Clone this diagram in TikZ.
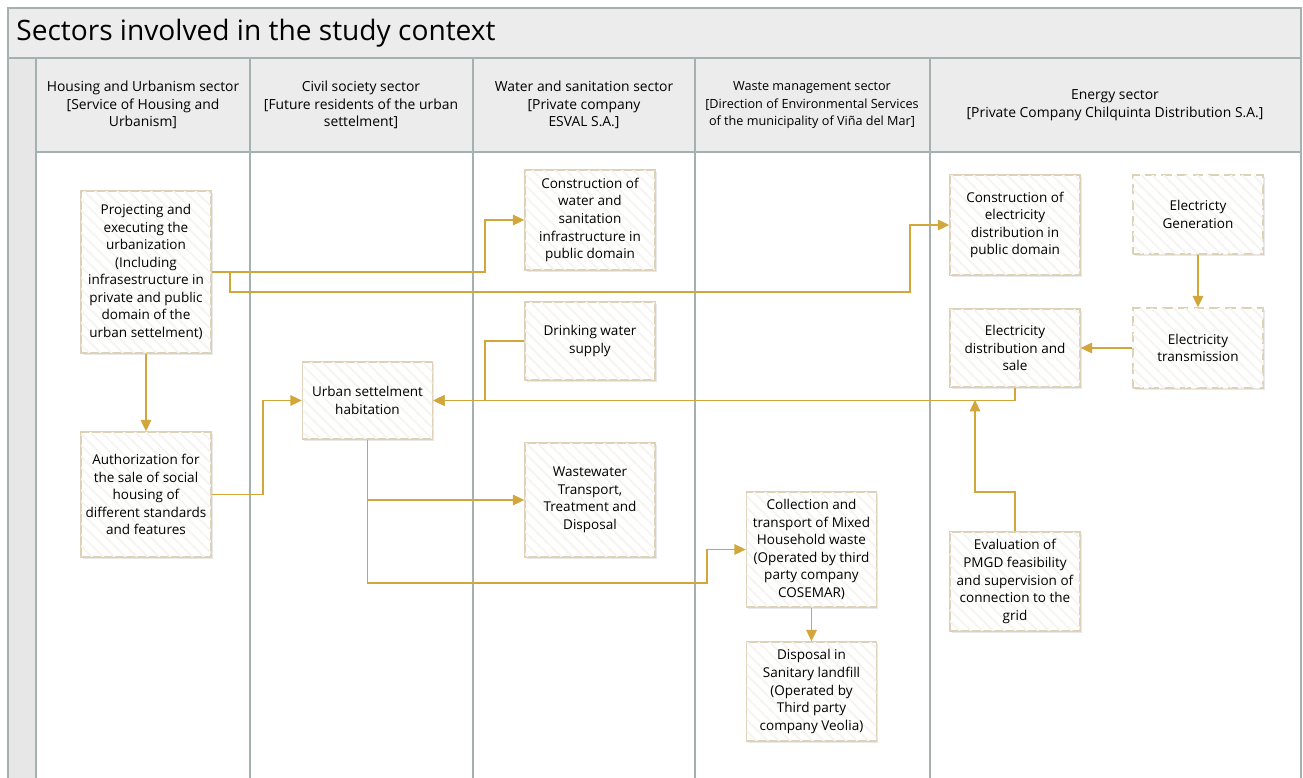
\documentclass[tikz,border=0pt]{standalone}
\usepackage{fontspec}
\setmainfont{Open Sans}
\usetikzlibrary{arrows.meta, shadows, patterns.meta}

\definecolor{flowgold}{RGB}{210,166,58}
\definecolor{boxline}{RGB}{221,210,184}
\definecolor{lanegray}{RGB}{163,177,176}
\definecolor{headgray}{RGB}{236,236,236}
\definecolor{stripgray}{RGB}{231,231,231}
\definecolor{hatchgray}{RGB}{246,244,240}

\begin{document}
\begin{tikzpicture}[x=0.02cm, y=-0.02cm,
    stage/.style={draw=boxline, fill=white, line width=0.8pt, align=center, inner sep=2pt,
        minimum width=2.6cm, font=\fontsize{7.7}{10}\selectfont,
        drop shadow={opacity=0.18, shadow xshift=1pt, shadow yshift=-1.2pt},
        postaction={pattern={Lines[angle=-45,distance=4.5pt,line width=1pt]}, pattern color=hatchgray}},
    ext/.style={stage, dash pattern=on 6pt off 3pt},
    flow/.style={draw=flowgold, line width=0.9pt, -{Triangle[length=6.5pt,width=6pt]}},
    lane/.style={draw=lanegray, line width=1.1pt},
    head/.style={align=center, font=\fontsize{7.9}{10}\selectfont}]
    \useasboundingbox (0,0) rectangle (1303,778);

    % Draw the pool: title band, header row and left strip
    \fill[headgray] (8,8) rectangle (1301,58);
    \fill[headgray] (36,58) rectangle (1301,152);
    \fill[stripgray] (8,58) rectangle (36,778);
    \draw[lane] (8,778) -- (8,8) -- (1301,8) -- (1301,778);
    \draw[lane] (8,58) -- (1301,58);
    \draw[lane] (36,152) -- (1301,152);
    \foreach \lx in {36,250,473,695,930}
        \draw[lane] (\lx,58) -- (\lx,778);

    % Title and lane headers
    \node[anchor=west, inner sep=0pt, font=\fontsize{16}{19}\selectfont] (title) at (16,33)
        {Sectors involved in the study context};
    \node[head] (housing) at (143,105) {Housing and Urbanism sector\\{[}Service of Housing and\\Urbanism]};
    \node[head] (civil) at (361,105) {Civil society sector\\{[}Future residents of the urban\\settelment]};
    \node[head] (water) at (584,105) {Water and sanitation sector\\{[}Private company\\ESVAL S.A.]};
    \node[head, font=\fontsize{7.2}{10}\selectfont] (wastemgmt) at (812,105)
        {Waste management sector\\{[}Direction of Environmental Services\\of the municipality of Viña del Mar]};
    \node[head] (energy) at (1115,105) {Energy sector\\{[}Private Company Chilquinta Distribution S.A.]};

    % Housing and Urbanism lane
    \node[stage, minimum height=3.24cm] (proj) at (146,272)
        {Projecting and\\executing the\\urbanization\\(Including\\infrasestructure in\\private and public\\domain of the\\urban settelment)};
    \node[stage, minimum height=2.5cm] (auth) at (146,494.5)
        {Authorization for\\the sale of social\\housing of\\different standards\\and features};

    % Civil society lane
    \node[stage, minimum height=1.54cm] (habit) at (367.5,400.5) {Urban settelment\\habitation};

    % Water and sanitation lane
    \node[stage, minimum height=2cm] (watinf) at (590,220)
        {Construction of\\water and\\sanitation\\infrastructure in\\public domain};
    \node[stage, minimum height=1.56cm] (drink) at (590,341) {Drinking water\\supply};
    \node[stage, minimum height=2.28cm] (sewage) at (590,500)
        {Wastewater\\Transport,\\Treatment and\\Disposal};

    % Waste management lane
    \node[stage, minimum height=2.3cm] (collect) at (811.5,549.5)
        {Collection and\\transport of Mixed\\Household waste\\(Operated by third\\party company\\COSEMAR)};
    \node[stage, minimum height=1.98cm] (landfill) at (811.5,691.5)
        {Disposal in\\Sanitary landfill\\(Operated by\\Third party\\company Veolia)};

    % Energy lane
    \node[stage, minimum height=2cm] (elinf) at (1015,225)
        {Construction of\\electricity\\distribution in\\public domain};
    \node[ext, minimum height=1.58cm] (gen) at (1198,214.5) {Electricty\\Generation};
    \node[ext, minimum height=1.6cm] (trans) at (1198,348) {Electricity\\transmission};
    \node[stage, minimum height=1.56cm] (distr) at (1015,348) {Electricity\\distribution and\\sale};
    \node[stage, minimum height=1.98cm] (pmgd) at (1015,581.5)
        {Evaluation of\\PMGD feasibility\\and supervision of\\connection to the\\grid};
    \coordinate (jn) at (975,400);

    % Draw the flows
    \draw[flow] (proj.east) -- (485,272) |- (watinf.west);
    \draw[flow] (proj.east) -- (230,272) |- (910,292) |- (elinf.west);
    \draw[flow] (proj.south) -- (auth.north);
    \draw[flow] (auth.east) -- (263,494.5) |- (habit.west);
    \draw[flow] (drink.west) -- (485,341) |- (habit.east);
    \draw[flow] (distr.south) |- (habit.east);
    \draw[flow] (habit.south) |- (sewage.west);
    \draw[flow] (habit.south) |- (707,583) |- (collect.west);
    \draw[flow] (collect.south) -- (landfill.north);
    \draw[flow] (gen.south) -- (trans.north);
    \draw[flow] (trans.west) -- (distr.east);
    \draw[flow] (pmgd.north) -- (1015,492) -| (jn);
\end{tikzpicture}
\end{document}
